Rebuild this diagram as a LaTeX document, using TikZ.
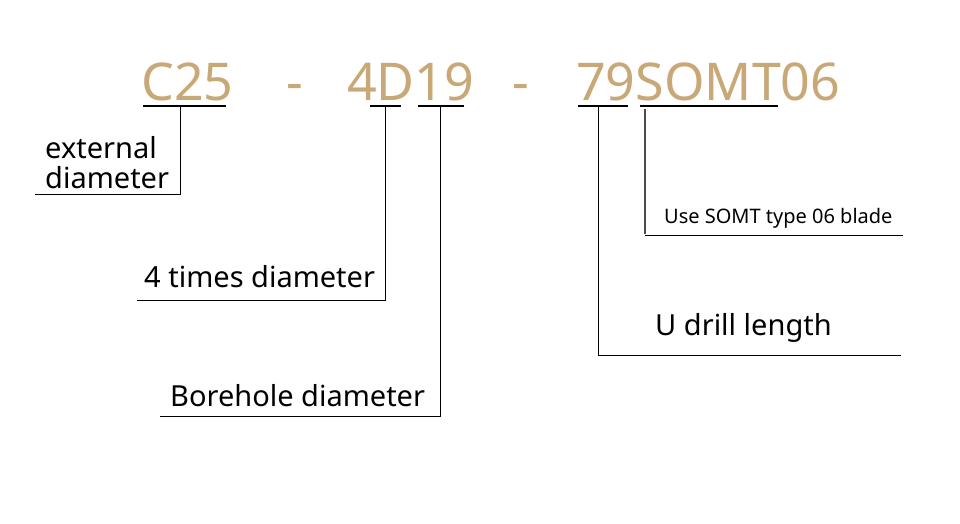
\documentclass[tikz,border=0pt]{standalone}
\usepackage{fontspec}
\setmainfont{Noto Sans}
\definecolor{gold}{HTML}{C9A877}
\begin{document}
\begin{tikzpicture}[x=1pt,y=-1pt,
  code/.style={text=gold,font=\fontsize{52}{52}\selectfont,anchor=base west,inner sep=0},
  lbl/.style={font=\fontsize{29}{32}\selectfont,anchor=base west,inner sep=0,align=left},
  ul/.style={line width=1.2pt,black},
  ln/.style={line width=0.8pt,black}]
\useasboundingbox[fill=white] (0,0) rectangle (960,523);
\node[code] (c25) at (141,100) {C25};
\node[code] (d1) at (286,100) {-};
\node[code] (c4d) at (347,100) {4D19};
\node[code] (d2) at (512,100) {-};
\node[code] (c79) at (576,100) {79SOMT06};
% underlines
\coordinate (u1a) at (143,106); \coordinate (u1b) at (226,106);
\coordinate (u2a) at (370,106); \coordinate (u2b) at (401,106);
\coordinate (u3a) at (418,106); \coordinate (u3b) at (464,106);
\coordinate (u4a) at (578,106); \coordinate (u4b) at (628,106);
\coordinate (u5a) at (640,106); \coordinate (u5b) at (778,106);
\draw[ul] (u1a)--(u1b); \draw[ul] (u2a)--(u2b); \draw[ul] (u3a)--(u3b);
\draw[ul] (u4a)--(u4b); \draw[ul] (u5a)--(u5b);
% labels
\node[lbl] (ext) at (45,158) {external};
\node[lbl] (dia) at (45,188) {diameter};
\node[lbl] (four) at (144,287) {4 times diameter};
\node[lbl] (bore) at (170,406) {Borehole diameter};
\node[lbl] (udl) at (655,335) {U drill length};
\node[lbl,font=\fontsize{20}{22}\selectfont] (use) at (664,223) {Use SOMT type 06 blade};
% leaders
\coordinate (e1) at (180,194); \coordinate (e2) at (35,194);
\draw[ln] (180,107)--(e1)--(e2);
\coordinate (f1) at (385,300); \coordinate (f2) at (137,300);
\draw[ln] (385,107)--(f1)--(f2);
\coordinate (b1) at (440,416); \coordinate (b2) at (160,416);
\draw[ln] (440,107)--(b1)--(b2);
\coordinate (l1) at (598,355); \coordinate (l2) at (901,355);
\draw[ln] (598,107)--(l1)--(l2);
\coordinate (s1) at (645,235); \coordinate (s2) at (903,235);
\draw[line width=2.2pt,black!70] (645,109)--(645,234);
\draw[ln] (s1)--(s2);
\end{tikzpicture}
\end{document}
